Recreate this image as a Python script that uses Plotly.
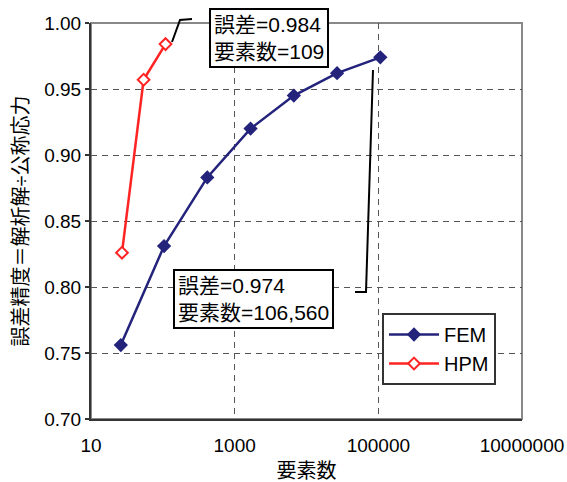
import plotly.graph_objects as go

# ---- data ----
fem_x = [26, 104, 416, 1665, 6660, 26640, 106560]
fem_y = [0.756, 0.831, 0.883, 0.920, 0.945, 0.962, 0.974]
hpm_x = [27, 54, 109]
hpm_y = [0.826, 0.957, 0.984]
x_tickvals = [10, 1000, 100000, 10000000]
x_ticktext = ["10", "1000", "100000", "10000000"]
y_tickvals = [0.70, 0.75, 0.80, 0.85, 0.90, 0.95, 1.00]
note_hpm = "誤差=0.984<br>要素数=109"
note_fem = "誤差=0.974<br>要素数=106,560"

FONT = "Liberation Sans, Arial, Noto Sans CJK JP, sans-serif"
NAVY = "#23237c"
RED = "#ff2424"

fig = go.Figure()
fig.add_trace(go.Scatter(
    x=fem_x, y=fem_y, mode="lines+markers", name="FEM", legendgroup="a",
    line=dict(color=NAVY, width=2.5),
    marker=dict(symbol="diamond", size=11, color=NAVY),
))
fig.add_trace(go.Scatter(
    x=hpm_x, y=hpm_y, mode="lines+markers", name="HPM", legendgroup="b",
    line=dict(color=RED, width=2.5),
    marker=dict(symbol="diamond", size=9, color="white", line=dict(color=RED, width=2)),
))

W, H = 567, 482
L, R, T, B = 91, 522, 23, 419
def px(x):
    return (x - L) / (R - L)
def py(y):
    return (B - y) / (B - T)

# leader lines
fig.add_shape(type="path", xref="paper", yref="paper",
              path=f"M {px(172)} {py(42)} L {px(180)} {py(20)} L {px(192)} {py(19)}",
              line=dict(color="black", width=2))
fig.add_shape(type="path", xref="paper", yref="paper",
              path=f"M {px(373)} {py(70)} L {px(366)} {py(292)} L {px(355)} {py(292)}",
              line=dict(color="black", width=2))
# plot-area frame (top/right gray)
fig.add_shape(type="rect", xref="paper", yref="paper", x0=0, y0=0, x1=1, y1=1,
              line=dict(color="#888888", width=2), layer="below")

fig.add_annotation(text=note_hpm, xref="paper", yref="paper",
                   x=px(209), y=py(8), xanchor="left", yanchor="top", align="left",
                   showarrow=False, font=dict(size=21, color="black", family=FONT),
                   bgcolor="white", bordercolor="black", borderwidth=2, borderpad=3)
fig.add_annotation(text=note_fem, xref="paper", yref="paper",
                   x=px(173), y=py(269), xanchor="left", yanchor="top", align="left",
                   showarrow=False, font=dict(size=21, color="black", family=FONT),
                   bgcolor="white", bordercolor="black", borderwidth=2, borderpad=3)

fig.update_layout(
    width=W, height=H,
    margin=dict(l=L, r=W - R, t=T, b=H - B, autoexpand=False),
    paper_bgcolor="white", plot_bgcolor="white",
    font=dict(family=FONT, size=19, color="black"),
    showlegend=True,
    legend=dict(x=px(382), y=py(313), xanchor="left", yanchor="top",
                bgcolor="white", bordercolor="#333333", borderwidth=2,
                font=dict(size=20), traceorder="grouped", tracegroupgap=0,
                itemwidth=50),
    xaxis=dict(
        type="log", range=[1, 7], automargin=False,
        tickvals=x_tickvals, ticktext=x_ticktext,
        showgrid=True, gridcolor="#555555", gridwidth=1, griddash="6px,5px",
        showline=True, linecolor="#333333", linewidth=2, mirror=False,
        ticks="", zeroline=False, ticklabelstandoff=8,
        title=dict(text="要素数", font=dict(size=20), standoff=9),
    ),
    yaxis=dict(
        range=[0.70, 1.00], tickvals=y_tickvals, tickformat=".2f", automargin=False,
        showgrid=True, gridcolor="#555555", gridwidth=1, griddash="6px,5px",
        showline=True, linecolor="#333333", linewidth=2, mirror=False,
        ticks="outside", ticklen=4, tickwidth=2, tickcolor="#333333",
        zeroline=False,
        title=dict(text="誤差精度＝解析解÷公称応力", font=dict(size=20), standoff=10),
    ),
)

fig.write_html("out.html")
